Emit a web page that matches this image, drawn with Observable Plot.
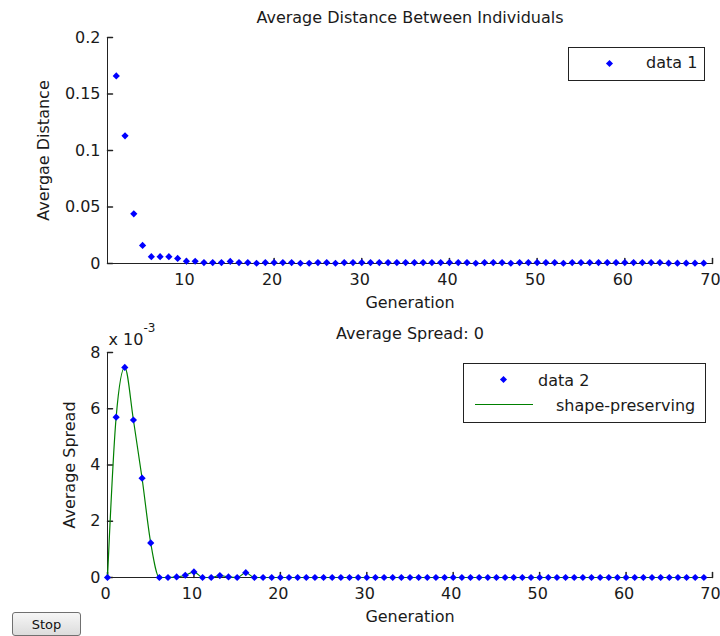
<!DOCTYPE html>
<html><head><meta charset="utf-8">
<script src="https://cdn.jsdelivr.net/npm/d3@7"></script>
<script src="https://cdn.jsdelivr.net/npm/@observablehq/plot@0.6"></script>
<style>
html,body{margin:0;padding:0;background:#fff;}
#wrap{position:relative;width:720px;height:636px;overflow:hidden;background:#fff;font-family:"DejaVu Sans",sans-serif;color:#1a1a1a;}
#top,#bottom{position:absolute;left:0;width:720px;}
#top{top:0;} #bottom{top:318px;}
.legend{position:absolute;border:1px solid #222;background:#fff;font-size:16px;}
.legend span{position:absolute;line-height:16px;white-space:nowrap;}
.mk{position:absolute;width:5px;height:5px;background:#00f;transform:rotate(45deg);}
.ln{position:absolute;height:0;border-top:1px solid #008000;}
#stop{position:absolute;left:12px;top:612px;width:69px;height:24px;font:13px "DejaVu Sans",sans-serif;color:#111;
  border:1px solid #707070;border-radius:3px;background:linear-gradient(#f6f6f6,#dcdcdc);padding:0;}
</style></head>
<body>
<div id="wrap">
  <div id="top"></div>
  <div id="bottom"></div>
  <div class="legend" style="left:568px;top:47px;width:135px;height:32px;">
    <div class="mk" style="left:38px;top:13px;"></div>
    <span id="leg1" style="left:77px;top:7px;"></span>
  </div>
  <div class="legend" style="left:463px;top:363px;width:241px;height:58px;">
    <div class="mk" style="left:37px;top:13px;"></div>
    <span id="leg2" style="left:74px;top:9px;"></span>
    <div class="ln" style="left:11px;top:40px;width:58px;"></div>
    <span id="leg3" style="left:92px;top:34px;"></span>
  </div>
  <button id="stop">Stop</button>
</div>
<script>
// ---- data ----
const topTitle = "Average Distance Between Individuals";
const topYLabel = "Avergae Distance";
const bottomTitle = "Average Spread: 0";
const bottomYLabel = "Average Spread";
const xLabel = "Generation";
const legendLabels = ["data 1", "data 2", "shape-preserving"];
const exponentBase = "x 10";
const exponentPower = "-3";

const topGenerations = [2,3,4,5,6,7,8,9,10,11,12,13,14,15,16,17,18,19,20,21,22,23,24,25,26,27,28,29,30,31,32,33,34,35,36,37,38,39,40,41,42,43,44,45,46,47,48,49,50,51,52,53,54,55,56,57,58,59,60,61,62,63,64,65,66,67,68,69];
const avgDistance = [0.166,0.113,0.044,0.016,0.006,0.006,0.006,0.0045,0.002,0.002,
  0.0008,0.0008,0.0008,0.0018,0.0008,0.0008,0.0002,0.0008,0.0008,0.0008,
  0.0008,0.0002,0.0002,0.0008,0.0008,0.0002,0.0008,0.0008,0.0008,0.0008,
  0.0008,0.0008,0.0008,0.0008,0.0008,0.0008,0.0008,0.0008,0.0008,0.0008,
  0.0008,0.0002,0.0008,0.0008,0.0008,0.0002,0.0008,0.0008,0.0008,0.0008,
  0.0008,0.0002,0.0008,0.0008,0.0008,0.0008,0.0008,0.0008,0.0008,0.0008,
  0.0008,0.0008,0.0008,0.0003,0.0003,0.0003,0.0003,0.0003];

const bottomGenerations = [0,1,2,3,4,5,6,7,8,9,10,11,12,13,14,15,16,17,18,19,20,21,22,23,24,25,26,27,28,29,30,31,32,33,34,35,36,37,38,39,40,41,42,43,44,45,46,47,48,49,50,51,52,53,54,55,56,57,58,59,60,61,62,63,64,65,66,67,68,69];
const avgSpread = [0,0.0057,0.00747,0.0056,0.00353,0.00123,0,0,0.00002,0.00008,
  0.0002,0,0,0.00007,0.00002,0,0.00017,0,0,0,
  0,0,0,0,0,0,0,0,0,0,
  0,0,0,0,0,0,0,0,0,0,
  0,0,0,0,0,0,0,0,0,0,
  0,0,0,0,0,0,0,0,0,0,
  0,0,0,0,0,0,0,0,0,0];

const topXDomain = [1, 70];
const topYDomain = [0, 0.2];
const topXTicks = [10,20,30,40,50,60,70];
const topYTicks = [0,0.05,0.1,0.15,0.2];
const bottomXDomain = [0, 70];
const bottomYDomain = [0, 0.008];
const bottomXTicks = [0,10,20,30,40,50,60,70];
const bottomYTicks = [0,0.002,0.004,0.006,0.008];

// ---- helpers ----
const topRows = topGenerations.map((g, i) => ({g, v: avgDistance[i]}));
const bottomRows = bottomGenerations.map((g, i) => ({g, v: avgSpread[i]}));
const AX = "#222";
const BLUE = "#0000ff";
const GREEN = "#008000";
const tickUp = {draw(c, l) { c.moveTo(0, 0); c.lineTo(0, -l); }};
const tickRight = {draw(c, l) { c.moveTo(0, 0); c.lineTo(l, 0); }};
const diamond = {draw(c, size) { const r = Math.sqrt(size / Math.PI); c.moveTo(0, -r); c.lineTo(r, 0); c.lineTo(0, r); c.lineTo(-r, 0); c.closePath(); }};
const baseStyle = {fontFamily: "'DejaVu Sans', sans-serif", fontSize: "16px", color: "#1a1a1a", background: "#fff", overflow: "visible"};

function frameMarks(xDomain, yDomain, xTicks, yTicks, yFormat) {
  return [
    Plot.ruleY([yDomain[0]], {stroke: AX}),
    Plot.ruleX([xDomain[0]], {stroke: AX}),
    Plot.vector(xTicks, {x: d => d, frameAnchor: "bottom", length: 5, anchor: "start", shape: tickUp, stroke: AX}),
    Plot.vector(yTicks, {y: d => d, frameAnchor: "left", length: 5, anchor: "start", shape: tickRight, stroke: AX}),
    Plot.axisX({ticks: xTicks, tickSize: 0, tickPadding: 10, label: null, dx: -2}),
    Plot.axisY({ticks: yTicks, tickSize: 0, tickPadding: 7, label: null, tickFormat: yFormat})
  ];
}

const topPlot = Plot.plot({
  width: 720, height: 318,
  marginTop: 37, marginBottom: 55, marginLeft: 107, marginRight: 8,
  style: baseStyle,
  x: {domain: topXDomain},
  y: {domain: topYDomain},
  marks: [
    ...frameMarks(topXDomain, topYDomain, topXTicks, topYTicks, d => String(d)),
    Plot.dot(topRows, {x: "g", y: "v", symbol: diamond, r: 3.6, fill: BLUE}),
    Plot.text([topTitle], {frameAnchor: "top", lineAnchor: "top", dy: -26}),
    Plot.text([xLabel], {frameAnchor: "bottom", lineAnchor: "top", dy: 33}),
    Plot.text([topYLabel], {frameAnchor: "left", textAnchor: "middle", lineAnchor: "top", rotate: -90, dx: -70})
  ]
});
document.getElementById("top").append(topPlot);

const bottomPlot = Plot.plot({
  width: 720, height: 318,
  marginTop: 34, marginBottom: 59, marginLeft: 107, marginRight: 8,
  style: baseStyle,
  x: {domain: bottomXDomain},
  y: {domain: bottomYDomain},
  marks: [
    ...frameMarks(bottomXDomain, bottomYDomain, bottomXTicks, bottomYTicks, d => String(Math.round(d * 1000))),
    Plot.line(bottomRows, {x: "g", y: "v", curve: "monotone-x", stroke: GREEN, strokeWidth: 1.2}),
    Plot.dot(bottomRows, {x: "g", y: "v", symbol: diamond, r: 3.6, fill: BLUE}),
    Plot.text([bottomTitle], {frameAnchor: "top", lineAnchor: "top", dy: -25}),
    Plot.text([exponentBase], {frameAnchor: "top-left", textAnchor: "start", lineAnchor: "top", dx: 1, dy: -19}),
    Plot.text([exponentPower], {frameAnchor: "top-left", textAnchor: "start", lineAnchor: "top", dx: 36, dy: -29, fontSize: 12}),
    Plot.text([xLabel], {frameAnchor: "bottom", lineAnchor: "top", dy: 33}),
    Plot.text([bottomYLabel], {frameAnchor: "left", textAnchor: "middle", lineAnchor: "top", rotate: -90, dx: -44})
  ]
});
document.getElementById("bottom").append(bottomPlot);

document.getElementById("leg1").textContent = legendLabels[0];
document.getElementById("leg2").textContent = legendLabels[1];
document.getElementById("leg3").textContent = legendLabels[2];
</script>
</body></html>
